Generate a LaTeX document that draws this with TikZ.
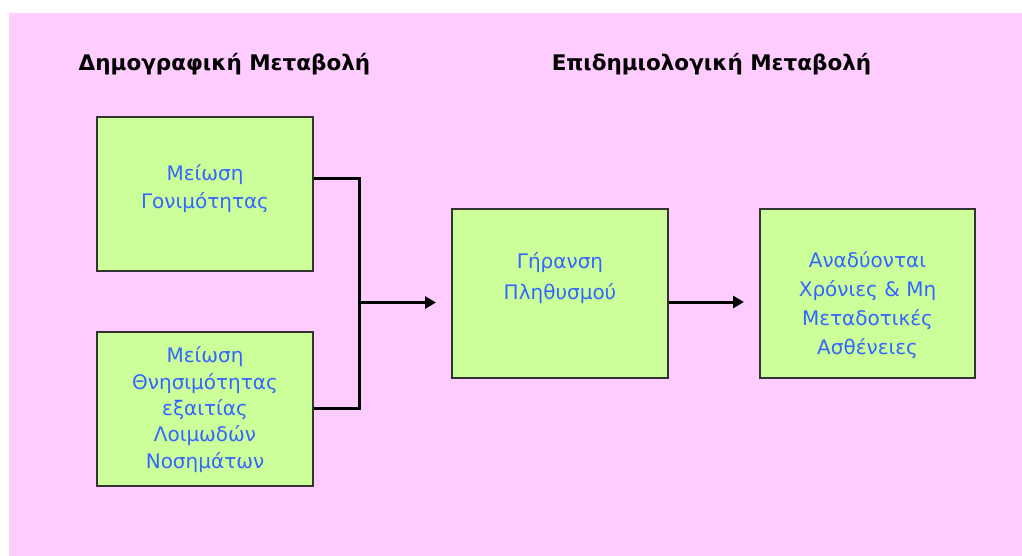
\documentclass[tikz,border=0pt]{standalone}
\usepackage{fontspec}
\setmainfont{DejaVu Sans}
\usetikzlibrary{arrows.meta}
\definecolor{bgpink}{HTML}{FFCCFF}
\definecolor{boxgreen}{HTML}{CCFF99}
\definecolor{txtblue}{HTML}{3366FF}
\definecolor{boxedge}{HTML}{333333}
\tikzset{
  stagebox/.style={draw=boxedge, line width=1.2pt, fill=boxgreen, inner sep=0pt},
  stagetext/.style={text=txtblue, align=center, inner sep=0pt,
    font=\fontsize{20}{28}\selectfont},
  header/.style={font=\fontsize{21.5}{26}\selectfont\bfseries, inner sep=0pt},
  flow/.style={line width=3pt, -{Triangle[length=11pt,width=12pt]}},
  joinline/.style={line width=3pt, line join=miter},
}
\begin{document}
\begin{tikzpicture}[x=1pt,y=-1pt]
  % page and coloured panel
  \fill[white] (0,0) rectangle (1022,556);
  \useasboundingbox (0,0) rectangle (1022,556);
  \fill[bgpink] (9,13) rectangle (1022,556);

  % column headings
  \node[header] (hdemo) at (224.5,64) {Δημογραφική Μεταβολή};
  \node[header] (hepid) at (711.5,64) {Επιδημιολογική Μεταβολή};

  % boxes
  \node[stagebox, minimum width=216pt, minimum height=154pt] (fert) at (205,194) {};
  \node[stagebox, minimum width=216pt, minimum height=154pt] (mort) at (205,409) {};
  \node[stagebox, minimum width=216pt, minimum height=169pt] (aging) at (560,293.5) {};
  \node[stagebox, minimum width=215pt, minimum height=169pt] (ncd) at (867.5,293.5) {};

  % box texts
  \node[stagetext] (tfert) at (205,189) {Μείωση\\Γονιμότητας};
  \node[stagetext, font=\fontsize{20}{26.3}\selectfont] (tmort) at (205,409.5) {Μείωση\\Θνησιμότητας\\εξαιτίας\\Λοιμωδών\\Νοσημάτων};
  \node[stagetext, font=\fontsize{20}{31}\selectfont] (taging) at (560,278) {Γήρανση\\Πληθυσμού};
  \node[stagetext, font=\fontsize{20}{29}\selectfont] (tncd) at (867.5,305) {Αναδύονται\\Χρόνιες \& Μη\\Μεταδοτικές\\Ασθένειες};

  % connectors
  \coordinate (jtop) at (359,179);
  \coordinate (jbot) at (359,408);
  \coordinate (jmid) at (359,302.5);
  \coordinate (tipa) at (436,302.5);
  \coordinate (tipb) at (744,302);
  \draw[joinline] (fert.east |- jtop) -- (jtop) -- (jbot) -- (mort.east |- jbot);
  \draw[flow] (jmid) -- (tipa);
  \draw[flow] (aging.east |- tipb) -- (tipb);
\end{tikzpicture}
\end{document}
